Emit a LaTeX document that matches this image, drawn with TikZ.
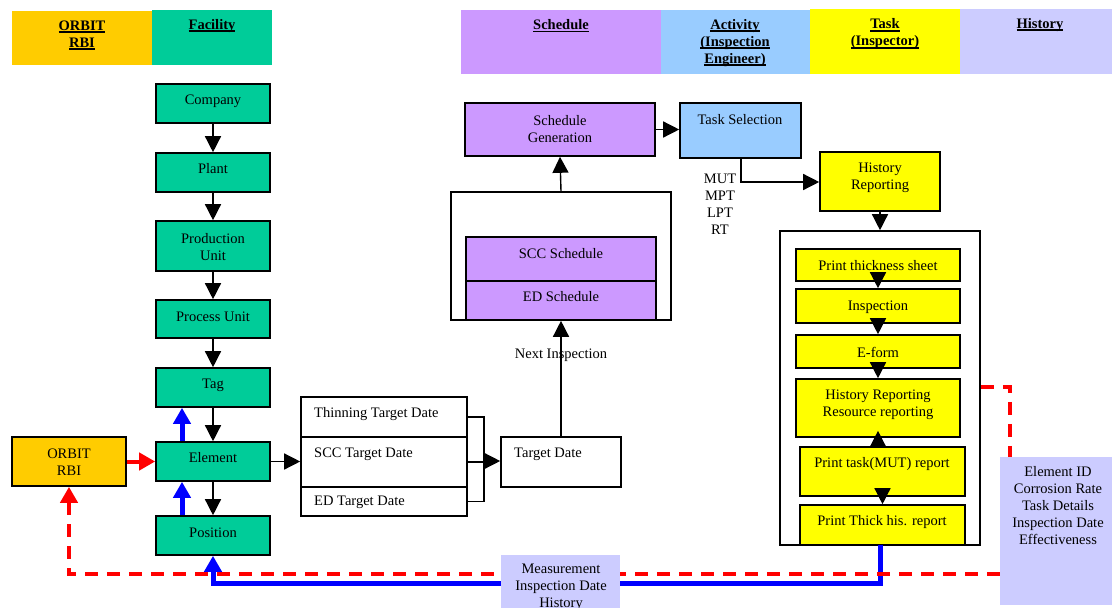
\documentclass[tikz,border=0pt]{standalone}
\usepackage{fontspec}
\setmainfont{Liberation Serif}
\usetikzlibrary{arrows.meta,fit}
\definecolor{cOrange}{HTML}{FFCC00}
\definecolor{cGreen}{HTML}{00CC99}
\definecolor{cPurple}{HTML}{CC99FF}
\definecolor{cBlue}{HTML}{99CCFF}
\definecolor{cYellow}{HTML}{FFFF00}
\definecolor{cLav}{HTML}{CCCCFF}
\newcommand\hu[1]{\setbox0\hbox{\textbf{#1}}\leavevmode\rlap{\rule[-2.6pt]{\wd0}{1.8pt}}\box0}
\begin{document}
\begin{tikzpicture}[x=1pt,y=-1pt,
  every node/.style={font=\fontsize{14.5}{17}\selectfont},
  hdr/.style={inner sep=0pt, draw=none},
  bx/.style={draw=black, line width=1.6pt, inner sep=0pt},
  txt/.style={inner sep=0pt, align=center},
  ltxt/.style={inner sep=0pt, anchor=west},
  arr/.style={line width=1.4pt, -{Triangle[width=16pt,length=16pt]}},
  plain/.style={line width=1.4pt},
  redarr/.style={draw=red, line width=4pt, -{Triangle[width=17pt,length=16pt]}},
  bluearr/.style={draw=blue, line width=5pt, -{Triangle[width=17pt,length=16pt]}},
  reddash/.style={draw=red, line width=4pt, dash pattern=on 13pt off 9pt},
]
\useasboundingbox (0,0) rectangle (1112,608);
\clip (0,0) rectangle (1112,608);

% headers
\node[hdr, fill=cOrange, fit={(12,11)(152,65)}] (hOrbit) {};
\node[hdr, fill=cGreen, fit={(152,10)(272,65)}] (hFac) {};
\node[hdr, fill=cPurple, fit={(461,10)(661,74)}] (hSch) {};
\node[hdr, fill=cBlue, fit={(661,10)(810,74)}] (hAct) {};
\node[hdr, fill=cYellow, fit={(810,9)(960,74)}] (hTask) {};
\node[hdr, fill=cLav, fit={(960,9)(1112,74)}] (hHist) {};
\node[txt] (hOrbitT) at (82,35) {\hu{ORBIT}\\\hu{RBI}};
\node[txt] (hFacT) at (212,26) {\hu{Facility}};
\node[txt] (hSchT) at (561,26) {\hu{Schedule}};
\node[txt] (hActT) at (735,43) {\hu{Activity}\\\hu{(Inspection}\\\hu{Engineer)}};
\node[txt] (hTaskT) at (885,34) {\hu{Task}\\\hu{(Inspector)}};
\node[txt] (hHistT) at (1040,25) {\hu{History}};

% facility column
\node[bx, fill=cGreen, fit={(156,84)(270,123)}] (company) {};
\node[bx, fill=cGreen, fit={(156,153)(270,192)}] (plant) {};
\node[bx, fill=cGreen, fit={(156,221)(270,271)}] (produnit) {};
\node[bx, fill=cGreen, fit={(156,300)(270,338)}] (procunit) {};
\node[bx, fill=cGreen, fit={(156,368)(270,407)}] (tag) {};
\node[bx, fill=cGreen, fit={(156,442)(270,481)}] (element) {};
\node[bx, fill=cGreen, fit={(156,516)(270,555)}] (position) {};
\node[txt] (companyT) at (213,101) {Company};
\node[txt] (plantT) at (213,169) {Plant};
\node[txt] (produnitT) at (213,247) {Production\\Unit};
\node[txt] (procunitT) at (213,317) {Process Unit};
\node[txt] (tagT) at (213,385) {Tag};
\node[txt] (elementT) at (213,458) {Element};
\node[txt] (positionT) at (213,533) {Position};

\node[bx, fill=cOrange, fit={(12,437)(126,486)}] (orbit) {};
\node[txt] (orbitT) at (69,462) {ORBIT\\RBI};

% target dates
\node[bx, fill=white, fit={(301,397)(467,437)}] (thin) {};
\node[bx, fill=white, fit={(301,437)(467,487)}] (scctd) {};
\node[bx, fill=white, fit={(301,487)(467,516)}] (edtd) {};
\node[bx, fill=white, fit={(501,437)(621,487)}] (targ) {};
\node[ltxt] (thinT) at (314,414) {Thinning Target Date};
\node[ltxt] (scctdT) at (314,454) {SCC Target Date};
\node[ltxt] (edtdT) at (314,502) {ED Target Date};
\node[ltxt] (targT) at (514,454) {Target Date};

% schedule
\node[bx, fill=white, fit={(451,192)(671,320)}] (schcont) {};
\node[bx, fill=cPurple, fit={(466,237)(656,281)}] (sccsch) {};
\node[bx, fill=cPurple, fit={(466,281)(656,320)}] (edsch) {};
\node[txt] (sccschT) at (561,254) {SCC Schedule};
\node[txt] (edschT) at (561,297) {ED Schedule};
\node[bx, fill=cPurple, fit={(465,103)(655,156)}] (schgen) {};
\node[txt] (schgenT) at (560,129) {Schedule\\Generation};
\node[bx, fill=cBlue, fit={(680,103)(801,158)}] (tasksel) {};
\node[txt] (taskselT) at (740,120) {Task Selection};
\node[txt] (mutT) at (720,204) {MUT\\MPT\\LPT\\RT};
\node[bx, fill=cYellow, fit={(820,152)(940,211)}] (histrep) {};
\node[txt] (histrepT) at (880,178) {History\\Reporting};

% task container
\node[bx, fill=white, fit={(780,231)(980,545)}] (cont2) {};
\node[bx, fill=cYellow, fit={(796,249)(960,281)}] (pts) {};
\node[bx, fill=cYellow, fit={(796,289)(960,323)}] (insp) {};
\node[bx, fill=cYellow, fit={(796,335)(960,368)}] (eform) {};
\node[bx, fill=cYellow, fit={(796,379)(960,437)}] (hrrr) {};
\node[bx, fill=cYellow, fit={(800,447)(965,496)}] (ptask) {};
\node[bx, fill=cYellow, fit={(800,505)(965,545)}] (pthick) {};
\node[txt] (ptsT) at (878,266) {Print thickness sheet};
\node[txt] (inspT) at (878,307) {Inspection};
\node[txt] (eformT) at (878,352) {E-form};
\node[txt] (hrrrT) at (878,405) {History Reporting\\Resource reporting};
\node[txt] (ptaskT) at (882,464) {Print task(MUT) report};
\node[txt] (pthickT) at (882,522) {Print Thick his. report};

\node[hdr, fill=cLav, fit={(1000,457)(1112,605)}] (hist2) {};
\node[txt] (hist2T) at (1058,506) {Element ID\\Corrosion Rate\\Task Details\\Inspection Date\\Effectiveness};

% connectors: facility column
\draw[arr] (company) -- (plant);
\draw[arr] (plant) -- (produnit);
\draw[arr] (produnit) -- (procunit);
\draw[arr] (procunit) -- (tag);
\draw[arr] (tag) -- (element);
\draw[arr] (element) -- (position);
\draw[bluearr] ([xshift=-31pt]position.north) -- ([xshift=-31pt]element.south);
\draw[bluearr] ([xshift=-31pt]element.north) -- ([xshift=-31pt]tag.south);
\draw[redarr] (orbit.east) -- (orbit.east -| element.west);
\draw[arr] (element.east) -- (element.east -| scctd.west);

% target date bracket
\coordinate (brk) at (484,461);
\draw[plain] (thin.east) -| (brk) |- (edtd.east);
\draw[plain] (scctd.east) -- (scctd.east -| brk);
\draw[arr] (brk) -- (brk -| targ.west);
\draw[arr] (targ.north) -- (edsch.south) node[pos=0.7, fill=none, inner sep=0pt] (nextT) {Next Inspection};

% schedule connectors
\draw[arr] (schcont.north) -- (schgen.south);
\draw[arr] (schgen.east) -- (schgen.east -| tasksel.west);
\coordinate (tsc) at (741,182);
\draw[arr] (tasksel.south -| tsc) -- (tsc) -- (tsc -| histrep.west);
\draw[arr] (histrep.south) -- (cont2.north);

% task chain
\coordinate (upx) at (878,0);
\draw[arr] ([yshift=7pt]pts.south) -- (insp.north);
\draw[arr] ([yshift=5pt]insp.south) -- (eform.north);
\draw[arr] ([yshift=4pt]eform.south) -- (hrrr.north);
\draw[arr] (ptask.north -| upx) -- ([yshift=7pt]hrrr.south);
\draw[arr] ([yshift=6pt]ptask.south) -- (pthick.north);

% feedback lines
\coordinate (bly) at (0,583);
\coordinate (rdy) at (0,574);
\coordinate (rdc) at (1010,387);
\coordinate (bls) at (880,545);
\draw[bluearr] (bls) -- (bls |- bly) -- (position.south |- bly) -- (position.south);
\draw[reddash, -{Triangle[width=17pt,length=16pt]}] (hist2.west |- rdy) -| (orbit.south);
\draw[reddash] (cont2.east |- rdc) -| (hist2.north -| rdc);

\node[hdr, fill=cLav, fit={(501,555)(620,612)}] (meas) {};
\node[txt] (measT) at (561,587) {Measurement\\Inspection Date\\History};
\end{tikzpicture}
\end{document}
